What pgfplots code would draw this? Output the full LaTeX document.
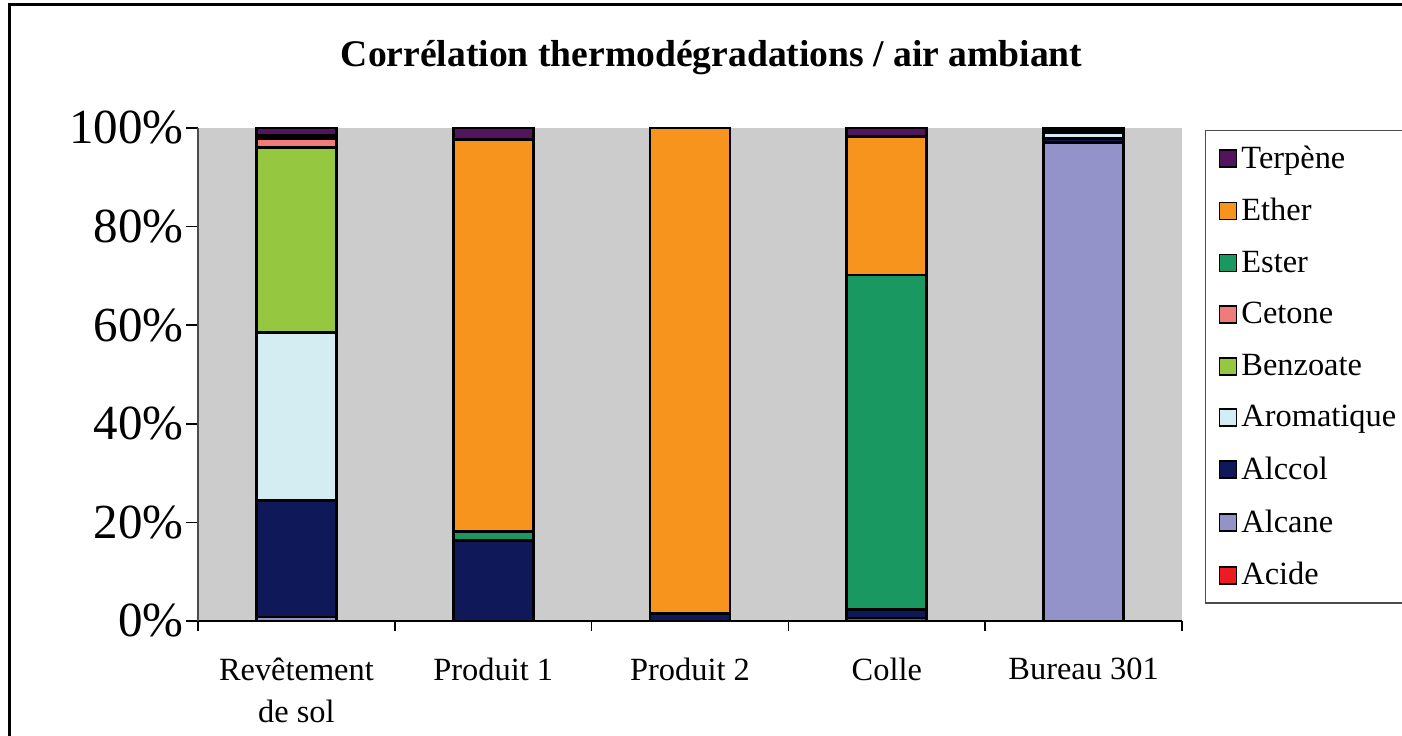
\documentclass[border=0pt]{standalone}
\usepackage{fontspec}
\setmainfont{Liberation Serif}
\usepackage{pgfplots}
\pgfplotsset{compat=1.18}
\definecolor{cTerp}{RGB}{82,20,92}
\definecolor{cEther}{RGB}{247,148,29}
\definecolor{cEster}{RGB}{26,152,98}
\definecolor{cCet}{RGB}{241,122,122}
\definecolor{cBenz}{RGB}{149,199,64}
\definecolor{cArom}{RGB}{211,237,242}
\definecolor{cAlcol}{RGB}{15,25,90}
\definecolor{cAlcane}{RGB}{147,147,201}
\definecolor{cAcide}{RGB}{237,28,36}
\definecolor{bgc}{RGB}{204,204,204}
\begin{document}
\begin{tikzpicture}
\useasboundingbox (0,0) rectangle (701pt,367.5pt);
\draw[line width=1.5pt] (4.5pt,-20pt) rectangle (720pt,365.25pt);
\begin{axis}[
  at={(99pt,57pt)}, anchor=south west,
  scale only axis, width=492pt, height=246.5pt,
  ybar stacked, bar width=40pt,
  xmin=-0.5, xmax=4.5, ymin=0, ymax=100,
  clip=false,
  axis background/.style={fill=bgc},
  axis x line*=bottom, axis y line*=left,
  axis line style={-},
  y axis line style={draw=gray!60!black, line width=1pt},
  x axis line style={draw=black, line width=0.8pt},
  xtick={0,1,2,3,4},
  xticklabels={Revêtement\\de sol, Produit 1, Produit 2, Colle, Bureau 301},
  major x tick style={draw=none},
  minor xtick={-0.5,0.5,1.5,2.5,3.5,4.5},
  minor x tick style={draw=black, line width=0.8pt},
  ytick={0,20,40,60,80,100},
  yticklabels={0\%,20\%,40\%,60\%,80\%,100\%},
  major tick length=6pt, minor tick length=5pt, tick align=outside,
  y tick style={draw=black, line width=0.8pt},
  yticklabel style={font=\fontsize{24.5}{26}\selectfont, inner xsep=1pt},
  xticklabel style={font=\fontsize{16.2}{21}\selectfont, align=center, anchor=north, yshift=-9pt},
  title={Corrélation thermodégradations / air ambiant},
  title style={at={(0.522,1.118)}, anchor=center, font=\bfseries\fontsize{18.8}{22}\selectfont},
  every axis plot/.append style={draw=black, line width=1.4pt},
  legend style={at={(1.0234,0.996)}, anchor=north west, draw=gray!60!black, line width=0.6pt,
    fill=white, font=\fontsize{16.2}{19}\selectfont, row sep=9.6pt, inner xsep=6.5pt, inner ysep=5.5pt,
    cells={anchor=west}},
  legend cell align=left,
  reverse legend,
  legend image code/.code={\draw[#1,draw=black,line width=0.9pt] (0pt,-4.25pt) rectangle (8.5pt,4.25pt);},
]
\addplot[fill=cAcide] coordinates {(0,0) (1,0) (2,0) (3,0.6) (4,0)};
\addlegendentry{Acide}
\addplot[fill=cAlcane] coordinates {(0,0.8) (1,0) (2,0) (3,0) (4,97.0)};
\addlegendentry{Alcane}
\addplot[fill=cAlcol] coordinates {(0,23.7) (1,16.4) (2,1.5) (3,1.8) (4,0.9)};
\addlegendentry{Alccol}
\addplot[fill=cArom] coordinates {(0,34.1) (1,0) (2,0) (3,0) (4,1.1)};
\addlegendentry{Aromatique\hspace*{12pt}}
\addplot[fill=cBenz] coordinates {(0,37.4) (1,0) (2,0) (3,0) (4,0)};
\addlegendentry{Benzoate}
\addplot[fill=cCet] coordinates {(0,1.8) (1,0) (2,0) (3,0) (4,0)};
\addlegendentry{Cetone}
\addplot[fill=cEster] coordinates {(0,0) (1,1.8) (2,0) (3,67.8) (4,0)};
\addlegendentry{Ester}
\addplot[fill=cEther] coordinates {(0,0.6) (1,79.4) (2,98.5) (3,28.0) (4,0.5)};
\addlegendentry{Ether}
\addplot[fill=cTerp] coordinates {(0,1.6) (1,2.4) (2,0) (3,1.8) (4,0.5)};
\addlegendentry{Terpène}
\end{axis}
\end{tikzpicture}
\end{document}
